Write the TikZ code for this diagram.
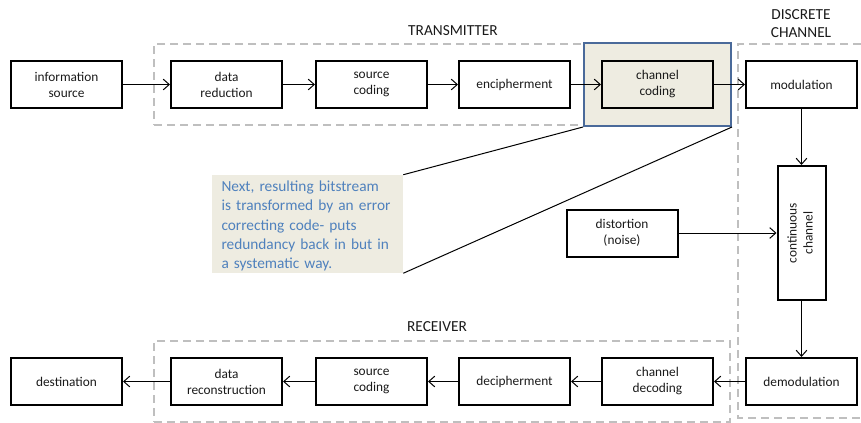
\documentclass[tikz,border=0pt]{standalone}
\usepackage{fontspec}
\setmainfont{Carlito}
\usetikzlibrary{positioning, arrows.meta, fit, backgrounds}
\definecolor{clrborder}{HTML}{000000}
\definecolor{clrtext}{HTML}{1A1A1A}
\definecolor{clrgroup_frame}{HTML}{BFBFBF}
\definecolor{clrhighlight_fill}{HTML}{EEECE1}
\definecolor{clrhighlight_frame}{HTML}{4A6A9A}
\definecolor{clrnote}{HTML}{4F81BD}

\begin{document}
\begin{tikzpicture}[
    x=0.75pt, y=-0.75pt,
    every node/.style={font=\fontsize{10}{12}\selectfont, text=clrtext},
    block/.style={draw=clrborder, line width=1.5pt, minimum width=83.25pt,
                  minimum height=35.25pt, align=center, inner sep=2pt},
    arrow/.style={-{Straight Barb[length=4.5pt, width=8pt]}, line width=0.75pt, color=clrborder},
    group/.style={draw=clrgroup_frame, line width=1.5pt, dash pattern=on 6pt off 3.75pt},
    highlight/.style={draw=clrhighlight_frame, fill=clrhighlight_fill, line width=1.5pt},
    note/.style={fill=clrhighlight_fill, text=clrnote, minimum width=143.25pt, minimum height=73.5pt,
                 text width=129pt, align=left, inner xsep=7pt, inner ysep=1pt,
                 font=\fontsize{11.5}{14.5}\selectfont},
    title/.style={font=\fontsize{11.5}{13.5}\selectfont, align=center},
]
\useasboundingbox (0,0) rectangle (861,422);
% transmitter row
\node[block] (n_1) at (66.5,84.5) {information\\source};
\node[block, right=35.25pt of n_1] (n_2) {data\\reduction};
\node[block, right=24pt of n_2] (n_3) {source\\coding};
\node[block, right=22.5pt of n_3] (n_4) {encipherment};
\node[block, right=22.5pt of n_4] (n_5) {channel\\coding};
\node[block, right=23.25pt of n_5] (n_6) {modulation};
% channel column
\node[block, minimum width=36pt, minimum height=100.5pt, below=42pt of n_6] (n_7)
    {\rotatebox{90}{\begin{tabular}{@{}c@{}}continuous\\channel\end{tabular}}};
\node[block, below=42pt of n_7] (n_8) {demodulation};
\node[block] (n_14) at (622,233) {distortion\\(noise)};
% receiver row
\node[block] (n_9) at (n_5 |- n_8) {channel\\decoding};
\node[block] (n_10) at (n_4 |- n_8) {decipherment};
\node[block] (n_11) at (n_3 |- n_8) {source\\coding};
\node[block] (n_12) at (n_2 |- n_8) {data\\reconstruction};
\node[block] (n_13) at (n_1 |- n_8) {destination};
% groups
\begin{scope}[on background layer]
\node[group, fit=(n_2) (n_5), inner sep=12pt] (g_0) {};
\node[highlight, fit=(n_5), inner sep=12.75pt] (g_1) {};
\node[group, fit=(n_12) (n_9), inner sep=12pt] (g_2) {};
\coordinate (g_3_a) at (861,44);
\coordinate (g_3_b) at (738,44);
\coordinate (g_3_c) at (738,418);
\coordinate (g_3_d) at (861,418);
\draw[group] (g_3_a) -- (g_3_b) -- (g_3_c) -- (g_3_d);
\end{scope}
\node[title] (t_0) at (453,31) {TRANSMITTER};
\node[title] (t_1) at (801,24) {DISCRETE\\CHANNEL};
\node[title] (t_2) at (437,327) {RECEIVER};
% note
\node[note] (n_15) at (307.5,224) {\rule{0pt}{11pt}Next, resulting bitstream\\is transformed by an error\\correcting code- puts\\redundancy back in but in\\a systematic way.};
\draw[line width=0.75pt] (n_15.north east) -- (g_1.south west);
\draw[line width=0.75pt] (n_15.south east) -- (g_1.south east);
% arrows
\draw[arrow] (n_1) -- (n_2);
\draw[arrow] (n_2) -- (n_3);
\draw[arrow] (n_3) -- (n_4);
\draw[arrow] (n_4) -- (n_5);
\draw[arrow] (n_5) -- (n_6);
\draw[arrow] (n_6) -- (n_7);
\draw[arrow] (n_14) -- (n_7);
\draw[arrow] (n_7) -- (n_8);
\draw[arrow] (n_8) -- (n_9);
\draw[arrow] (n_9) -- (n_10);
\draw[arrow] (n_10) -- (n_11);
\draw[arrow] (n_11) -- (n_12);
\draw[arrow] (n_12) -- (n_13);
\end{tikzpicture}
\end{document}
